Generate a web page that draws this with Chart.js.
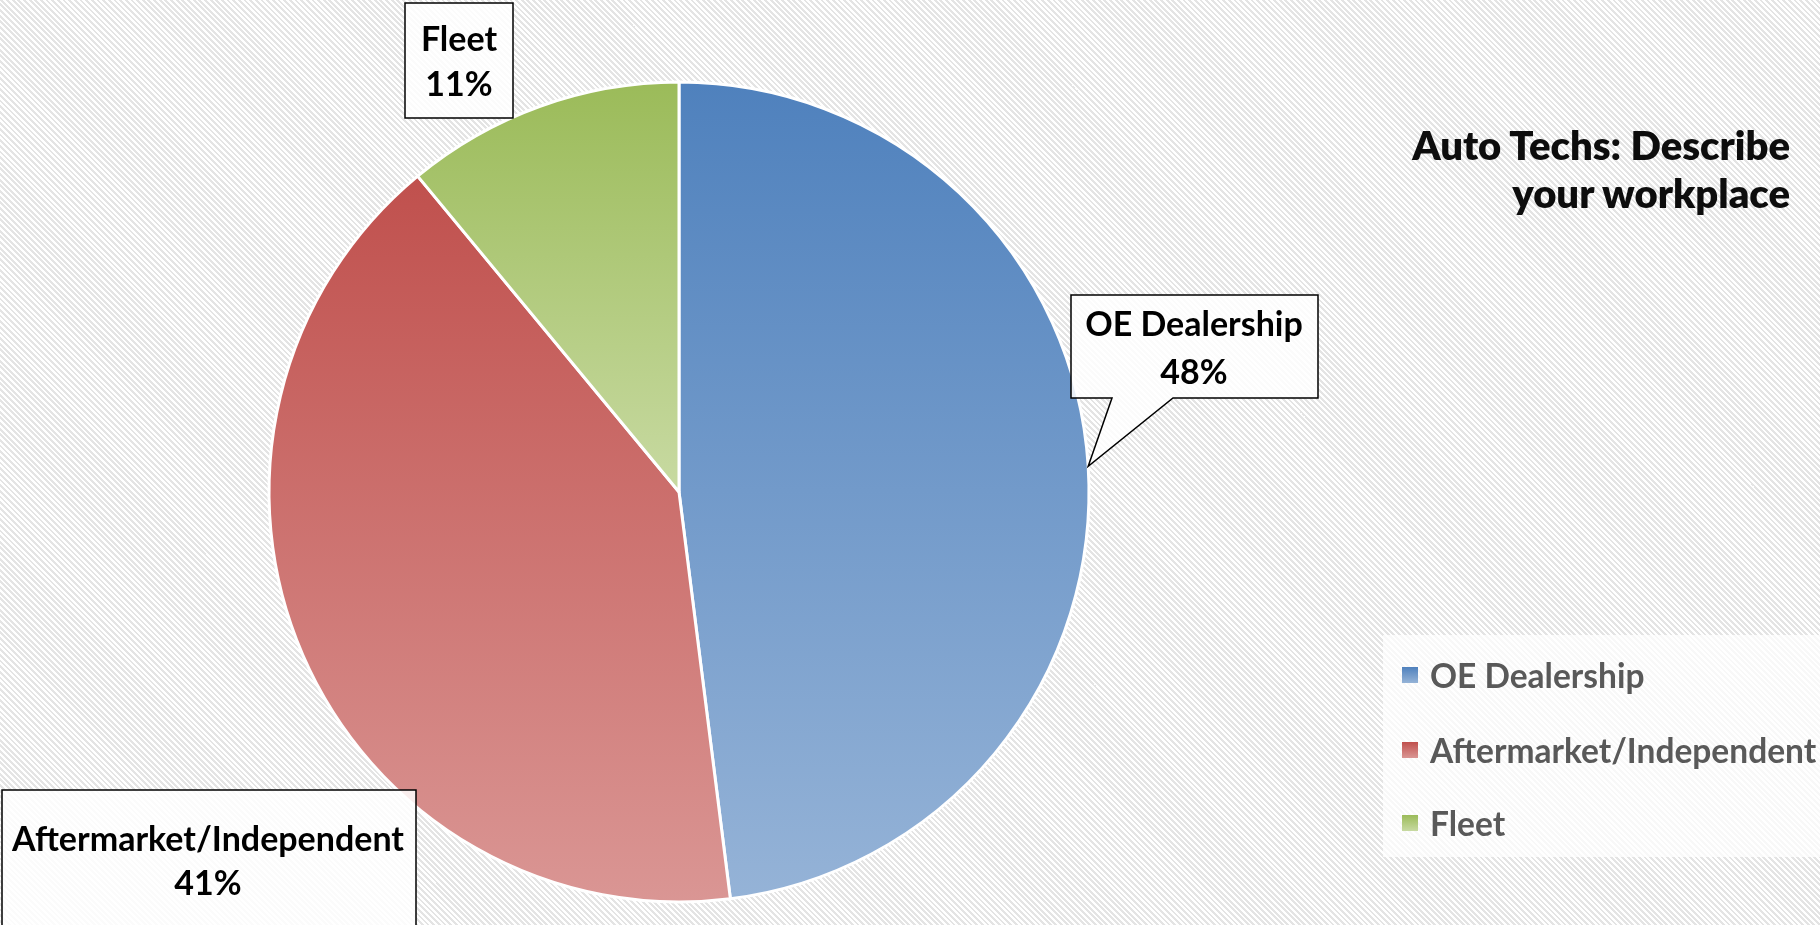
<!DOCTYPE html>
<html>
<head>
<meta charset="utf-8">
<script src="https://cdn.jsdelivr.net/npm/chart.js@4.4.0/dist/chart.umd.min.js"></script>
<style>
  html, body { margin:0; padding:0; width:1820px; height:925px; overflow:hidden; }
  body { background: repeating-linear-gradient(45deg, #ffffff 0px, #ffffff 2px, #e4e4e4 2px, #e4e4e4 4px); }
  #wrap { position:relative; width:1820px; height:925px; }
  #chart { position:absolute; left:0; top:0; }
  #title { position:absolute; right:30px; top:121px; font-family:Lato, sans-serif; font-weight:800; font-size:40px; line-height:48px; text-align:right; color:#0d0d0d; }
  #legend { position:absolute; left:1383px; top:635px; width:437px; height:222px; background:rgba(255,255,255,0.72); }
  .item { position:absolute; left:19px; height:48px; display:flex; align-items:center; font-family:Lato, sans-serif; font-weight:700; font-size:33.5px; color:#595959; white-space:nowrap; }
  .mark { width:16px; height:16px; margin-right:12px; }
</style>
</head>
<body>
<div id="wrap">
  <canvas id="chart" width="1820" height="925"></canvas>
  <div id="title"></div>
  <div id="legend"></div>
</div>
<script>
// ---- data ----
const categories = ['OE Dealership', 'Aftermarket/Independent', 'Fleet'];
const shares = [48, 41, 11];
const chartTitle = ['Auto Techs: Describe', 'your workplace'];

// ---- styles ----
const topColors = ['#4F81BD', '#C0504D', '#9BBB59'];
const bottomColors = ['#95B3D7', '#DA9694', '#C8DAA2'];
const PIE_R = 410;
const FONT = 'bold 34px Lato, sans-serif';
// callout box layout (x, y, w, h, first text line centre, line gap, optional pointer base)
const calloutLayout = [
  { x:1071, y:295, w:247, h:103, tx:1194, ty:325, gap:48, pointer:[1112, 1173] },
  { x:2,    y:790, w:414, h:200, tx:208,  ty:840, gap:44 },
  { x:405,  y:3,   w:108, h:115, tx:459,  ty:40,  gap:45 }
];

document.getElementById('title').innerHTML = chartTitle.join('<br>');

const total = shares.reduce((a, b) => a + b, 0);

function sliceGradient(c) {
  const i = c.dataIndex;
  const chart = c.chart, ca = chart.chartArea;
  if (!ca) return topColors[i];
  const cx = (ca.left + ca.right) / 2, cy = (ca.top + ca.bottom) / 2, r = PIE_R;
  let before = 0;
  for (let k = 0; k < i; k++) before += shares[k];
  const a0 = -Math.PI / 2 + 2 * Math.PI * before / total;
  const a1 = a0 + 2 * Math.PI * shares[i] / total;
  const ys = [cy, cy + r * Math.sin(a0), cy + r * Math.sin(a1)];
  const eps = 1e-6;
  [-Math.PI / 2, Math.PI / 2, 3 * Math.PI / 2].forEach(t => {
    if (a0 <= t + eps && a1 >= t - eps) ys.push(cy + r * Math.sin(t));
  });
  const y0 = Math.min(...ys), y1 = Math.max(...ys);
  const g = chart.ctx.createLinearGradient(0, y0, 0, y1);
  g.addColorStop(0, topColors[i]);
  g.addColorStop(1, bottomColors[i]);
  return g;
}

const calloutPlugin = {
  id: 'callouts',
  afterDatasetsDraw(chart) {
    const ctx = chart.ctx;
    const meta = chart.getDatasetMeta(0);
    calloutLayout.forEach((co, i) => {
      const arc = meta.data[i];
      ctx.save();
      ctx.beginPath();
      ctx.moveTo(co.x, co.y);
      ctx.lineTo(co.x + co.w, co.y);
      ctx.lineTo(co.x + co.w, co.y + co.h);
      if (co.pointer) {
        const mid = (arc.startAngle + arc.endAngle) / 2;
        const tipX = arc.x + Math.cos(mid) * arc.outerRadius;
        const tipY = arc.y + Math.sin(mid) * arc.outerRadius;
        ctx.lineTo(co.pointer[1], co.y + co.h);
        ctx.lineTo(tipX, tipY);
        ctx.lineTo(co.pointer[0], co.y + co.h);
      }
      ctx.lineTo(co.x, co.y + co.h);
      ctx.closePath();
      ctx.fillStyle = 'rgba(255,255,255,0.85)';
      ctx.fill();
      ctx.lineWidth = 1.5;
      ctx.strokeStyle = '#000000';
      ctx.stroke();
      ctx.fillStyle = '#000000';
      ctx.font = FONT;
      ctx.textAlign = 'center';
      ctx.textBaseline = 'middle';
      const pct = Math.round(shares[i] / total * 100) + '%';
      ctx.fillText(categories[i], co.tx, co.ty);
      ctx.fillText(pct, co.tx, co.ty + co.gap);
      ctx.restore();
    });
  }
};

new Chart(document.getElementById('chart'), {
  type: 'pie',
  data: {
    labels: categories,
    datasets: [{
      data: shares,
      backgroundColor: sliceGradient,
      borderColor: '#ffffff',
      borderWidth: 3
    }]
  },
  options: {
    responsive: false,
    animation: false,
    radius: PIE_R,
    layout: { padding: { left: 0, right: 462, top: 59, bottom: 0 } },
    plugins: {
      legend: { display: false },
      tooltip: { enabled: false },
      title: { display: false }
    }
  },
  plugins: [calloutPlugin]
});

// HTML legend built from the data arrays
const legend = document.getElementById('legend');
const rowCentres = [40, 115, 188];
categories.forEach((name, i) => {
  const it = document.createElement('div');
  it.className = 'item';
  it.style.top = (rowCentres[i] - 24) + 'px';
  const m = document.createElement('div');
  m.className = 'mark';
  m.style.background = 'linear-gradient(' + topColors[i] + ',' + bottomColors[i] + ')';
  it.appendChild(m);
  const t = document.createElement('span');
  t.textContent = name;
  it.appendChild(t);
  legend.appendChild(it);
});
</script>
</body>
</html>
